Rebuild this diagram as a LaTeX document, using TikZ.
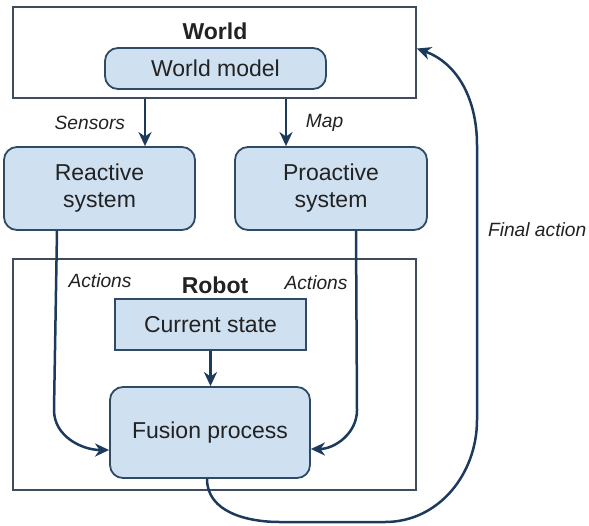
\documentclass[tikz,border=0pt]{standalone}
\usepackage{fontspec}
\setmainfont{Liberation Sans}
\usetikzlibrary{arrows.meta,positioning}

\definecolor{boxfill}{HTML}{CFE0F1}
\definecolor{boxedge}{HTML}{2E4A66}
\definecolor{framegray}{HTML}{3D4D5D}
\definecolor{arrowblue}{HTML}{1C3A5C}
\definecolor{textgray}{HTML}{222222}

\begin{document}
\begin{tikzpicture}[
						x=0.5pt,
						y=-0.5pt,
						>={Stealth[length=7pt,width=6.5pt,inset=2.2pt]},
						font=\fontsize{11.5}{13.5}\selectfont,
						frame/.style={draw=framegray, line width=0.9pt, fill=white, inner sep=0pt},
						unit/.style={draw=boxedge, line width=0.9pt, fill=boxfill, rounded corners=6.5pt, align=center, inner sep=0pt, text=textgray},
						state/.style={draw=boxedge, line width=0.9pt, fill=boxfill, inner sep=0pt, text=textgray},
						title/.style={font=\fontsize{11.5}{13.5}\selectfont\bfseries, text=textgray},
						tag/.style={font=\fontsize{9.6}{12}\selectfont\itshape, text=textgray},
						flow/.style={->, draw=arrowblue, line width=1.25pt}
					]
					\useasboundingbox (0,0) rectangle (589,525);
					% world
					\node[frame, minimum width=201.5pt, minimum height=45.5pt] (world) at (214.5,52.5) {};
					\node[title] (worldtitle) at (215,31) {World};
					\node[unit, minimum width=110.5pt, minimum height=20.5pt] (worldmodel) at (215.5,68.5) {World model};
					% systems
					\node[unit, minimum width=95.5pt, minimum height=41.5pt] (reactive) at (99.5,188.5) {Reactive\\system};
					\node[unit, minimum width=96pt, minimum height=41.5pt] (proactive) at (331,188.5) {Proactive\\system};
					% robot
					\node[frame, minimum width=201.5pt, minimum height=115.5pt] (robot) at (214.5,374.5) {};
					\node[title] (robottitle) at (215,285) {Robot};
					\node[state, minimum width=95.5pt, minimum height=25.5pt] (current) at (210.5,324.5) {Current state};
					\node[unit, minimum width=100pt, minimum height=45.5pt] (fusion) at (210,432.5) {Fusion process};
					% columns of the connectors
					\coordinate (sensx) at (145,0);
					\coordinate (mapx) at (286,0);
					\coordinate (leftx) at (57,0);
					\coordinate (rightx) at (356,0);
					\coordinate (backx) at (207,0);
					\coordinate (finalx) at (477,0);
					% connectors
					\draw[flow] (world.south -| sensx) -- (reactive.north -| sensx)
						node[tag, midway, left=6pt] (sensors) {Sensors};
					\draw[flow] (world.south -| mapx) -- (proactive.north -| mapx)
						node[tag, midway, right=6pt] (map) {Map};
					\draw[flow] (reactive.south -| leftx) -- (54,410)
						to[out=-90, in=180] ([yshift=-8.75pt]fusion.west);
					\draw[flow] (proactive.south -| rightx) -- (357,410)
						to[out=-90, in=0] ([yshift=-8.25pt]fusion.east);
					\draw[flow] (current) -- (fusion.north -| current.south);
					\draw[flow] (fusion.south -| backx) to[out=-90, in=180] (280,522) -- (385,522)
						to[out=0, in=-90] (477,420) -- (477,145)
						to[out=90, in=-20] ([yshift=2pt]world.east);
					\node[tag] (actleft) at (100,281) {Actions};
					\node[tag] (actright) at (316,283) {Actions};
					\node[tag, anchor=west] (final) at (481,230) {Final action};
				\end{tikzpicture}
\end{document}
